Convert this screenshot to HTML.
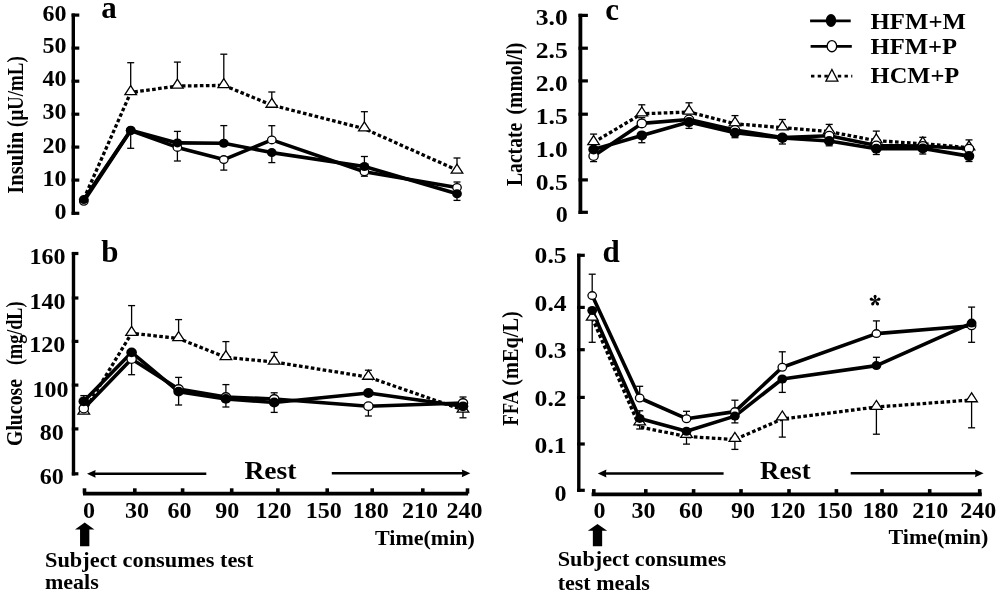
<!DOCTYPE html>
<html><head><meta charset="utf-8"><style>
html,body{margin:0;padding:0;background:#fff;}
svg{display:block;filter:grayscale(1);}
text{font-family:"Liberation Serif", serif;font-weight:bold;fill:#000;}
</style></head><body>
<svg width="1000" height="595" viewBox="0 0 1000 595">
<rect width="1000" height="595" fill="#fff"/>
<line x1="73.3" y1="13.5" x2="73.3" y2="214.9" stroke="#000" stroke-width="3.4" />
<line x1="71.6" y1="15.1" x2="79.3" y2="15.1" stroke="#000" stroke-width="3.2" />
<line x1="71.6" y1="48.1" x2="79.3" y2="48.1" stroke="#000" stroke-width="3.2" />
<line x1="71.6" y1="81.2" x2="79.3" y2="81.2" stroke="#000" stroke-width="3.2" />
<line x1="71.6" y1="114.2" x2="79.3" y2="114.2" stroke="#000" stroke-width="3.2" />
<line x1="71.6" y1="147.1" x2="79.3" y2="147.1" stroke="#000" stroke-width="3.2" />
<line x1="71.6" y1="180.1" x2="79.3" y2="180.1" stroke="#000" stroke-width="3.2" />
<line x1="71.6" y1="213.3" x2="79.3" y2="213.3" stroke="#000" stroke-width="3.2" />
<text x="66.6" y="20.6" font-size="24" text-anchor="end" >60</text>
<text x="66.6" y="53.2" font-size="24" text-anchor="end" >50</text>
<text x="66.6" y="85.8" font-size="24" text-anchor="end" >40</text>
<text x="66.6" y="119.3" font-size="24" text-anchor="end" >30</text>
<text x="66.6" y="152.8" font-size="24" text-anchor="end" >20</text>
<text x="66.6" y="185.9" font-size="24" text-anchor="end" >10</text>
<text x="66.6" y="219.1" font-size="24" text-anchor="end" >0</text>
<text x="101.3" y="17.9" font-size="31" text-anchor="start" >a</text>
<text transform="translate(22.6,193.7) rotate(-90)" font-size="22.5" textLength="61.8" lengthAdjust="spacingAndGlyphs">Insulin</text>
<text transform="translate(22.6,126.9) rotate(-90)" font-size="22.5" textLength="70.6" lengthAdjust="spacingAndGlyphs">(μU/mL)</text>
<line x1="73.5" y1="251.9" x2="73.5" y2="475.4" stroke="#000" stroke-width="3.4" />
<line x1="71.8" y1="253.5" x2="78.4" y2="253.5" stroke="#000" stroke-width="3.2" />
<line x1="71.8" y1="298" x2="78.4" y2="298" stroke="#000" stroke-width="3.2" />
<line x1="71.8" y1="341.4" x2="78.4" y2="341.4" stroke="#000" stroke-width="3.2" />
<line x1="71.8" y1="385.1" x2="78.4" y2="385.1" stroke="#000" stroke-width="3.2" />
<line x1="71.8" y1="428.9" x2="78.4" y2="428.9" stroke="#000" stroke-width="3.2" />
<line x1="71.8" y1="473.8" x2="78.4" y2="473.8" stroke="#000" stroke-width="3.2" />
<text x="47.6" y="263.8" font-size="24" text-anchor="middle" >160</text>
<text x="47.6" y="309" font-size="24" text-anchor="middle" >140</text>
<text x="47.3" y="351.5" font-size="24" text-anchor="middle" >120</text>
<text x="50.5" y="397.2" font-size="24" text-anchor="middle" >100</text>
<text x="51.7" y="439.6" font-size="24" text-anchor="middle" >80</text>
<text x="51.7" y="483.9" font-size="24" text-anchor="middle" >60</text>
<text x="101.3" y="261.5" font-size="31" text-anchor="start" >b</text>
<text transform="translate(22.2,446) rotate(-90)" font-size="22.5" textLength="67" lengthAdjust="spacingAndGlyphs">Glucose</text>
<text transform="translate(22.2,365) rotate(-90)" font-size="22.5" textLength="63.5" lengthAdjust="spacingAndGlyphs">(mg/dL)</text>
<line x1="580.4" y1="13.8" x2="580.4" y2="213.9" stroke="#000" stroke-width="3.8" />
<line x1="578.5" y1="15.4" x2="587.9" y2="15.4" stroke="#000" stroke-width="3.2" />
<line x1="578.5" y1="48.2" x2="587.9" y2="48.2" stroke="#000" stroke-width="3.2" />
<line x1="578.5" y1="80.9" x2="587.9" y2="80.9" stroke="#000" stroke-width="3.2" />
<line x1="578.5" y1="114.2" x2="587.9" y2="114.2" stroke="#000" stroke-width="3.2" />
<line x1="578.5" y1="179.9" x2="587.9" y2="179.9" stroke="#000" stroke-width="3.2" />
<line x1="578.5" y1="212.3" x2="587.9" y2="212.3" stroke="#000" stroke-width="3.2" />
<text x="567.8" y="25.2" font-size="24" text-anchor="end" textLength="32" lengthAdjust="spacingAndGlyphs">3.0</text>
<text x="567.8" y="58.3" font-size="24" text-anchor="end" textLength="32" lengthAdjust="spacingAndGlyphs">2.5</text>
<text x="567.8" y="91.4" font-size="24" text-anchor="end" textLength="32" lengthAdjust="spacingAndGlyphs">2.0</text>
<text x="567.8" y="124.3" font-size="24" text-anchor="end" textLength="32" lengthAdjust="spacingAndGlyphs">1.5</text>
<text x="567.8" y="156.6" font-size="24" text-anchor="end" textLength="32" lengthAdjust="spacingAndGlyphs">1.0</text>
<text x="567.8" y="189.5" font-size="24" text-anchor="end" textLength="32" lengthAdjust="spacingAndGlyphs">0.5</text>
<text x="567.8" y="222.3" font-size="24" text-anchor="end" >0</text>
<text x="605.2" y="19.6" font-size="31" text-anchor="start" >c</text>
<text transform="translate(521.7,186) rotate(-90)" font-size="22.5" textLength="63.2" lengthAdjust="spacingAndGlyphs">Lactate</text>
<text transform="translate(521.7,114.4) rotate(-90)" font-size="22.5" textLength="71.8" lengthAdjust="spacingAndGlyphs">(mmol/l)</text>
<line x1="578.8" y1="253.7" x2="578.8" y2="491.9" stroke="#000" stroke-width="3.4" />
<line x1="577.1" y1="255.3" x2="584.8" y2="255.3" stroke="#000" stroke-width="3.2" />
<line x1="577.1" y1="307.4" x2="584.8" y2="307.4" stroke="#000" stroke-width="3.2" />
<line x1="577.1" y1="349.7" x2="584.8" y2="349.7" stroke="#000" stroke-width="3.2" />
<line x1="577.1" y1="397.4" x2="584.8" y2="397.4" stroke="#000" stroke-width="3.2" />
<line x1="577.1" y1="444" x2="584.8" y2="444" stroke="#000" stroke-width="3.2" />
<line x1="577.1" y1="490.3" x2="584.8" y2="490.3" stroke="#000" stroke-width="3.2" />
<text x="566.6" y="263.3" font-size="24" text-anchor="end" textLength="32" lengthAdjust="spacingAndGlyphs">0.5</text>
<text x="566.6" y="311.3" font-size="24" text-anchor="end" textLength="32" lengthAdjust="spacingAndGlyphs">0.4</text>
<text x="566.6" y="358" font-size="24" text-anchor="end" textLength="32" lengthAdjust="spacingAndGlyphs">0.3</text>
<text x="566.6" y="406.4" font-size="24" text-anchor="end" textLength="32" lengthAdjust="spacingAndGlyphs">0.2</text>
<text x="566.6" y="453.1" font-size="24" text-anchor="end" textLength="32" lengthAdjust="spacingAndGlyphs">0.1</text>
<text x="566.6" y="501" font-size="24" text-anchor="end" >0</text>
<text x="602.5" y="262.3" font-size="31" text-anchor="start" >d</text>
<text transform="translate(518.1,425.8) rotate(-90)" font-size="22.5" textLength="35" lengthAdjust="spacingAndGlyphs">FFA</text>
<text transform="translate(518.1,385.8) rotate(-90)" font-size="22.5" textLength="74.5" lengthAdjust="spacingAndGlyphs">(mEq/L)</text>
<g transform="translate(875.1,300.5)" fill="#000"><path d="M-0.4,-0.3 L-1.35,-3.2 A1.6,1.6 0 1 1 1.35,-3.2 L0.4,-0.3 Z" transform="rotate(0)"/><path d="M-0.4,-0.3 L-1.35,-3.2 A1.6,1.6 0 1 1 1.35,-3.2 L0.4,-0.3 Z" transform="rotate(72)"/><path d="M-0.4,-0.3 L-1.35,-3.2 A1.6,1.6 0 1 1 1.35,-3.2 L0.4,-0.3 Z" transform="rotate(144)"/><path d="M-0.4,-0.3 L-1.35,-3.2 A1.6,1.6 0 1 1 1.35,-3.2 L0.4,-0.3 Z" transform="rotate(216)"/><path d="M-0.4,-0.3 L-1.35,-3.2 A1.6,1.6 0 1 1 1.35,-3.2 L0.4,-0.3 Z" transform="rotate(288)"/><circle r="0.8"/></g>
<line x1="130.7" y1="91" x2="130.7" y2="62.7" stroke="#000" stroke-width="1.3" />
<line x1="127.2" y1="62.7" x2="134.2" y2="62.7" stroke="#000" stroke-width="1.3" />
<line x1="177.4" y1="84.5" x2="177.4" y2="62.1" stroke="#000" stroke-width="1.3" />
<line x1="173.9" y1="62.1" x2="180.9" y2="62.1" stroke="#000" stroke-width="1.3" />
<line x1="223.8" y1="83.9" x2="223.8" y2="54.2" stroke="#000" stroke-width="1.3" />
<line x1="220.3" y1="54.2" x2="227.3" y2="54.2" stroke="#000" stroke-width="1.3" />
<line x1="271.8" y1="103.6" x2="271.8" y2="92" stroke="#000" stroke-width="1.3" />
<line x1="268.3" y1="92" x2="275.3" y2="92" stroke="#000" stroke-width="1.3" />
<line x1="364.4" y1="127.2" x2="364.4" y2="111.7" stroke="#000" stroke-width="1.3" />
<line x1="360.9" y1="111.7" x2="367.9" y2="111.7" stroke="#000" stroke-width="1.3" />
<line x1="457" y1="169.4" x2="457" y2="158" stroke="#000" stroke-width="1.3" />
<line x1="453.5" y1="158" x2="460.5" y2="158" stroke="#000" stroke-width="1.3" />
<line x1="130.7" y1="130.2" x2="130.7" y2="148.3" stroke="#000" stroke-width="1.3" />
<line x1="127.2" y1="148.3" x2="134.2" y2="148.3" stroke="#000" stroke-width="1.3" />
<line x1="177.4" y1="142.9" x2="177.4" y2="131.4" stroke="#000" stroke-width="1.3" />
<line x1="173.9" y1="131.4" x2="180.9" y2="131.4" stroke="#000" stroke-width="1.3" />
<line x1="177.4" y1="147.4" x2="177.4" y2="161" stroke="#000" stroke-width="1.3" />
<line x1="173.9" y1="161" x2="180.9" y2="161" stroke="#000" stroke-width="1.3" />
<line x1="223.8" y1="143.3" x2="223.8" y2="125.6" stroke="#000" stroke-width="1.3" />
<line x1="220.3" y1="125.6" x2="227.3" y2="125.6" stroke="#000" stroke-width="1.3" />
<line x1="223.8" y1="159.6" x2="223.8" y2="170.1" stroke="#000" stroke-width="1.3" />
<line x1="220.3" y1="170.1" x2="227.3" y2="170.1" stroke="#000" stroke-width="1.3" />
<line x1="271.8" y1="139.9" x2="271.8" y2="125.7" stroke="#000" stroke-width="1.3" />
<line x1="268.3" y1="125.7" x2="275.3" y2="125.7" stroke="#000" stroke-width="1.3" />
<line x1="271.8" y1="152.6" x2="271.8" y2="162.6" stroke="#000" stroke-width="1.3" />
<line x1="268.3" y1="162.6" x2="275.3" y2="162.6" stroke="#000" stroke-width="1.3" />
<line x1="364.4" y1="166.5" x2="364.4" y2="156.5" stroke="#000" stroke-width="1.3" />
<line x1="360.9" y1="156.5" x2="367.9" y2="156.5" stroke="#000" stroke-width="1.3" />
<line x1="364.4" y1="171.7" x2="364.4" y2="176.2" stroke="#000" stroke-width="1.3" />
<line x1="360.9" y1="176.2" x2="367.9" y2="176.2" stroke="#000" stroke-width="1.3" />
<line x1="457" y1="187.4" x2="457" y2="182" stroke="#000" stroke-width="1.3" />
<line x1="453.5" y1="182" x2="460.5" y2="182" stroke="#000" stroke-width="1.3" />
<line x1="457" y1="193.8" x2="457" y2="200.4" stroke="#000" stroke-width="1.3" />
<line x1="453.5" y1="200.4" x2="460.5" y2="200.4" stroke="#000" stroke-width="1.3" />
<polyline points="83.8,199 130.7,92.5 177.4,86 223.8,85.4 271.8,105.1 364.4,128.7 457,170.1" fill="none" stroke="#000" stroke-width="3.3" stroke-linejoin="round" stroke-dasharray="3.6 2.4"/>
<polyline points="83.8,201.3 130.7,130.5 177.4,147.4 223.8,159.6 271.8,139.9 364.4,171.7 457,187.4" fill="none" stroke="#000" stroke-width="3.6" stroke-linejoin="round"/>
<polyline points="83.8,199.6 130.7,130.2 177.4,142.9 223.8,143.3 271.8,152.6 364.4,166.5 457,193.8" fill="none" stroke="#000" stroke-width="3.6" stroke-linejoin="round"/>
<polygon points="130.7,85.72 124.9,94.67 136.5,94.67" fill="#fff" stroke="#000" stroke-width="1.3" stroke-linejoin="miter"/>
<polygon points="177.4,79.22 171.6,88.17 183.2,88.17" fill="#fff" stroke="#000" stroke-width="1.3" stroke-linejoin="miter"/>
<polygon points="223.8,78.62 218,87.57 229.6,87.57" fill="#fff" stroke="#000" stroke-width="1.3" stroke-linejoin="miter"/>
<polygon points="271.8,98.32 266,107.27 277.6,107.27" fill="#fff" stroke="#000" stroke-width="1.3" stroke-linejoin="miter"/>
<polygon points="364.4,121.92 358.6,130.87 370.2,130.87" fill="#fff" stroke="#000" stroke-width="1.3" stroke-linejoin="miter"/>
<polygon points="457,164.12 451.2,173.07 462.8,173.07" fill="#fff" stroke="#000" stroke-width="1.3" stroke-linejoin="miter"/>
<ellipse cx="83.8" cy="201.3" rx="4.25" ry="3.85" fill="#fff" stroke="#000" stroke-width="1.3"/>
<ellipse cx="130.7" cy="130.5" rx="4.25" ry="3.85" fill="#fff" stroke="#000" stroke-width="1.3"/>
<ellipse cx="177.4" cy="147.4" rx="4.25" ry="3.85" fill="#fff" stroke="#000" stroke-width="1.3"/>
<ellipse cx="223.8" cy="159.6" rx="4.25" ry="3.85" fill="#fff" stroke="#000" stroke-width="1.3"/>
<ellipse cx="271.8" cy="139.9" rx="4.25" ry="3.85" fill="#fff" stroke="#000" stroke-width="1.3"/>
<ellipse cx="364.4" cy="171.7" rx="4.25" ry="3.85" fill="#fff" stroke="#000" stroke-width="1.3"/>
<ellipse cx="457" cy="187.4" rx="4.25" ry="3.85" fill="#fff" stroke="#000" stroke-width="1.3"/>
<ellipse cx="83.8" cy="199.6" rx="4.9" ry="4.5" fill="#000"/>
<ellipse cx="130.7" cy="130.2" rx="4.9" ry="4.5" fill="#000"/>
<ellipse cx="177.4" cy="142.9" rx="4.9" ry="4.5" fill="#000"/>
<ellipse cx="223.8" cy="143.3" rx="4.9" ry="4.5" fill="#000"/>
<ellipse cx="271.8" cy="152.6" rx="4.9" ry="4.5" fill="#000"/>
<ellipse cx="364.4" cy="166.5" rx="4.9" ry="4.5" fill="#000"/>
<ellipse cx="457" cy="193.8" rx="4.9" ry="4.5" fill="#000"/>
<line x1="83.8" y1="401.3" x2="83.8" y2="395.6" stroke="#000" stroke-width="1.3" />
<line x1="80.3" y1="395.6" x2="87.3" y2="395.6" stroke="#000" stroke-width="1.3" />
<line x1="131.6" y1="331.7" x2="131.6" y2="305.6" stroke="#000" stroke-width="1.3" />
<line x1="128.1" y1="305.6" x2="135.1" y2="305.6" stroke="#000" stroke-width="1.3" />
<line x1="178.6" y1="337" x2="178.6" y2="319.6" stroke="#000" stroke-width="1.3" />
<line x1="175.1" y1="319.6" x2="182.1" y2="319.6" stroke="#000" stroke-width="1.3" />
<line x1="225.9" y1="355.9" x2="225.9" y2="341.6" stroke="#000" stroke-width="1.3" />
<line x1="222.4" y1="341.6" x2="229.4" y2="341.6" stroke="#000" stroke-width="1.3" />
<line x1="274.2" y1="360.5" x2="274.2" y2="352.4" stroke="#000" stroke-width="1.3" />
<line x1="270.7" y1="352.4" x2="277.7" y2="352.4" stroke="#000" stroke-width="1.3" />
<line x1="368.4" y1="375.6" x2="368.4" y2="370.2" stroke="#000" stroke-width="1.3" />
<line x1="364.9" y1="370.2" x2="371.9" y2="370.2" stroke="#000" stroke-width="1.3" />
<line x1="131.6" y1="359.1" x2="131.6" y2="374.7" stroke="#000" stroke-width="1.3" />
<line x1="128.1" y1="374.7" x2="135.1" y2="374.7" stroke="#000" stroke-width="1.3" />
<line x1="178.6" y1="389" x2="178.6" y2="377.4" stroke="#000" stroke-width="1.3" />
<line x1="175.1" y1="377.4" x2="182.1" y2="377.4" stroke="#000" stroke-width="1.3" />
<line x1="178.6" y1="391.6" x2="178.6" y2="405" stroke="#000" stroke-width="1.3" />
<line x1="175.1" y1="405" x2="182.1" y2="405" stroke="#000" stroke-width="1.3" />
<line x1="225.9" y1="397" x2="225.9" y2="384.6" stroke="#000" stroke-width="1.3" />
<line x1="222.4" y1="384.6" x2="229.4" y2="384.6" stroke="#000" stroke-width="1.3" />
<line x1="225.9" y1="398.9" x2="225.9" y2="407" stroke="#000" stroke-width="1.3" />
<line x1="222.4" y1="407" x2="229.4" y2="407" stroke="#000" stroke-width="1.3" />
<line x1="274.2" y1="399" x2="274.2" y2="392.8" stroke="#000" stroke-width="1.3" />
<line x1="270.7" y1="392.8" x2="277.7" y2="392.8" stroke="#000" stroke-width="1.3" />
<line x1="274.2" y1="402.5" x2="274.2" y2="412.4" stroke="#000" stroke-width="1.3" />
<line x1="270.7" y1="412.4" x2="277.7" y2="412.4" stroke="#000" stroke-width="1.3" />
<line x1="368.4" y1="406.2" x2="368.4" y2="416" stroke="#000" stroke-width="1.3" />
<line x1="364.9" y1="416" x2="371.9" y2="416" stroke="#000" stroke-width="1.3" />
<line x1="463" y1="403" x2="463" y2="397" stroke="#000" stroke-width="1.3" />
<line x1="459.5" y1="397" x2="466.5" y2="397" stroke="#000" stroke-width="1.3" />
<line x1="463" y1="406.3" x2="463" y2="417.8" stroke="#000" stroke-width="1.3" />
<line x1="459.5" y1="417.8" x2="466.5" y2="417.8" stroke="#000" stroke-width="1.3" />
<polyline points="83.8,412 131.6,333.2 178.6,338.5 225.9,357.4 274.2,362 368.4,377.1 463,409.9" fill="none" stroke="#000" stroke-width="3.3" stroke-linejoin="round" stroke-dasharray="3.6 2.4"/>
<polyline points="83.8,408.6 131.6,359.1 178.6,389 225.9,397 274.2,399 368.4,406.2 463,403" fill="none" stroke="#000" stroke-width="3.6" stroke-linejoin="round"/>
<polyline points="83.8,401.3 131.6,352.4 178.6,391.6 225.9,398.9 274.2,402.5 368.4,393 463,406.3" fill="none" stroke="#000" stroke-width="3.6" stroke-linejoin="round"/>
<polygon points="83.8,405.22 78,414.17 89.6,414.17" fill="#fff" stroke="#000" stroke-width="1.3" stroke-linejoin="miter"/>
<polygon points="131.6,326.42 125.8,335.37 137.4,335.37" fill="#fff" stroke="#000" stroke-width="1.3" stroke-linejoin="miter"/>
<polygon points="178.6,331.72 172.8,340.67 184.4,340.67" fill="#fff" stroke="#000" stroke-width="1.3" stroke-linejoin="miter"/>
<polygon points="225.9,350.62 220.1,359.57 231.7,359.57" fill="#fff" stroke="#000" stroke-width="1.3" stroke-linejoin="miter"/>
<polygon points="274.2,355.22 268.4,364.17 280,364.17" fill="#fff" stroke="#000" stroke-width="1.3" stroke-linejoin="miter"/>
<polygon points="368.4,370.32 362.6,379.27 374.2,379.27" fill="#fff" stroke="#000" stroke-width="1.3" stroke-linejoin="miter"/>
<polygon points="463,403.12 457.2,412.07 468.8,412.07" fill="#fff" stroke="#000" stroke-width="1.3" stroke-linejoin="miter"/>
<ellipse cx="83.8" cy="408.6" rx="4.6499999999999995" ry="4.25" fill="#fff" stroke="#000" stroke-width="1.3"/>
<ellipse cx="131.6" cy="359.1" rx="4.6499999999999995" ry="4.25" fill="#fff" stroke="#000" stroke-width="1.3"/>
<ellipse cx="178.6" cy="389" rx="4.6499999999999995" ry="4.25" fill="#fff" stroke="#000" stroke-width="1.3"/>
<ellipse cx="225.9" cy="397" rx="4.6499999999999995" ry="4.25" fill="#fff" stroke="#000" stroke-width="1.3"/>
<ellipse cx="274.2" cy="399" rx="4.6499999999999995" ry="4.25" fill="#fff" stroke="#000" stroke-width="1.3"/>
<ellipse cx="368.4" cy="406.2" rx="4.6499999999999995" ry="4.25" fill="#fff" stroke="#000" stroke-width="1.3"/>
<ellipse cx="463" cy="403" rx="4.6499999999999995" ry="4.25" fill="#fff" stroke="#000" stroke-width="1.3"/>
<ellipse cx="83.8" cy="401.3" rx="5.3" ry="4.9" fill="#000"/>
<ellipse cx="131.6" cy="352.4" rx="5.3" ry="4.9" fill="#000"/>
<ellipse cx="178.6" cy="391.6" rx="5.3" ry="4.9" fill="#000"/>
<ellipse cx="225.9" cy="398.9" rx="5.3" ry="4.9" fill="#000"/>
<ellipse cx="274.2" cy="402.5" rx="5.3" ry="4.9" fill="#000"/>
<ellipse cx="368.4" cy="393" rx="5.3" ry="4.9" fill="#000"/>
<ellipse cx="463" cy="406.3" rx="5.3" ry="4.9" fill="#000"/>
<line x1="593.6" y1="140.9" x2="593.6" y2="134.1" stroke="#000" stroke-width="1.3" />
<line x1="590.1" y1="134.1" x2="597.1" y2="134.1" stroke="#000" stroke-width="1.3" />
<line x1="641.8" y1="112.3" x2="641.8" y2="104.8" stroke="#000" stroke-width="1.3" />
<line x1="638.3" y1="104.8" x2="645.3" y2="104.8" stroke="#000" stroke-width="1.3" />
<line x1="689" y1="110.5" x2="689" y2="102.8" stroke="#000" stroke-width="1.3" />
<line x1="685.5" y1="102.8" x2="692.5" y2="102.8" stroke="#000" stroke-width="1.3" />
<line x1="735" y1="122.3" x2="735" y2="115.6" stroke="#000" stroke-width="1.3" />
<line x1="731.5" y1="115.6" x2="738.5" y2="115.6" stroke="#000" stroke-width="1.3" />
<line x1="782.4" y1="126.2" x2="782.4" y2="119.5" stroke="#000" stroke-width="1.3" />
<line x1="778.9" y1="119.5" x2="785.9" y2="119.5" stroke="#000" stroke-width="1.3" />
<line x1="829.2" y1="130.1" x2="829.2" y2="124.4" stroke="#000" stroke-width="1.3" />
<line x1="825.7" y1="124.4" x2="832.7" y2="124.4" stroke="#000" stroke-width="1.3" />
<line x1="876.3" y1="139.2" x2="876.3" y2="131.1" stroke="#000" stroke-width="1.3" />
<line x1="872.8" y1="131.1" x2="879.8" y2="131.1" stroke="#000" stroke-width="1.3" />
<line x1="922.8" y1="142.2" x2="922.8" y2="137.3" stroke="#000" stroke-width="1.3" />
<line x1="919.3" y1="137.3" x2="926.3" y2="137.3" stroke="#000" stroke-width="1.3" />
<line x1="969" y1="146.2" x2="969" y2="139.9" stroke="#000" stroke-width="1.3" />
<line x1="965.5" y1="139.9" x2="972.5" y2="139.9" stroke="#000" stroke-width="1.3" />
<line x1="593.6" y1="156" x2="593.6" y2="161.6" stroke="#000" stroke-width="1.3" />
<line x1="590.1" y1="161.6" x2="597.1" y2="161.6" stroke="#000" stroke-width="1.3" />
<line x1="641.8" y1="135.4" x2="641.8" y2="142.7" stroke="#000" stroke-width="1.3" />
<line x1="638.3" y1="142.7" x2="645.3" y2="142.7" stroke="#000" stroke-width="1.3" />
<line x1="689" y1="122.1" x2="689" y2="128.4" stroke="#000" stroke-width="1.3" />
<line x1="685.5" y1="128.4" x2="692.5" y2="128.4" stroke="#000" stroke-width="1.3" />
<line x1="735" y1="132.8" x2="735" y2="137.7" stroke="#000" stroke-width="1.3" />
<line x1="731.5" y1="137.7" x2="738.5" y2="137.7" stroke="#000" stroke-width="1.3" />
<line x1="641.8" y1="123.4" x2="641.8" y2="117.7" stroke="#000" stroke-width="1.3" />
<line x1="638.3" y1="117.7" x2="645.3" y2="117.7" stroke="#000" stroke-width="1.3" />
<line x1="782.4" y1="138" x2="782.4" y2="144" stroke="#000" stroke-width="1.3" />
<line x1="778.9" y1="144" x2="785.9" y2="144" stroke="#000" stroke-width="1.3" />
<line x1="829.2" y1="141" x2="829.2" y2="145.8" stroke="#000" stroke-width="1.3" />
<line x1="825.7" y1="145.8" x2="832.7" y2="145.8" stroke="#000" stroke-width="1.3" />
<line x1="876.3" y1="148.7" x2="876.3" y2="154.5" stroke="#000" stroke-width="1.3" />
<line x1="872.8" y1="154.5" x2="879.8" y2="154.5" stroke="#000" stroke-width="1.3" />
<line x1="922.8" y1="148.4" x2="922.8" y2="154" stroke="#000" stroke-width="1.3" />
<line x1="919.3" y1="154" x2="926.3" y2="154" stroke="#000" stroke-width="1.3" />
<line x1="969" y1="156.1" x2="969" y2="161.5" stroke="#000" stroke-width="1.3" />
<line x1="965.5" y1="161.5" x2="972.5" y2="161.5" stroke="#000" stroke-width="1.3" />
<polyline points="593.6,142.4 641.8,113.8 689,112 735,123.8 782.4,127.7 829.2,131.6 876.3,140.7 922.8,143.7 969,147.7" fill="none" stroke="#000" stroke-width="3.3" stroke-linejoin="round" stroke-dasharray="3.6 2.4"/>
<polyline points="593.6,156 641.8,123.4 689,119.5 735,130 782.4,137.5 829.2,135.8 876.3,145.5 922.8,146 969,148.7" fill="none" stroke="#000" stroke-width="3.6" stroke-linejoin="round"/>
<polyline points="593.6,149.5 641.8,135.4 689,122.1 735,132.8 782.4,138 829.2,141 876.3,148.7 922.8,148.4 969,156.1" fill="none" stroke="#000" stroke-width="3.6" stroke-linejoin="round"/>
<polygon points="593.6,135.62 587.8,144.57 599.4,144.57" fill="#fff" stroke="#000" stroke-width="1.3" stroke-linejoin="miter"/>
<polygon points="641.8,107.02 636,115.97 647.6,115.97" fill="#fff" stroke="#000" stroke-width="1.3" stroke-linejoin="miter"/>
<polygon points="689,105.22 683.2,114.17 694.8,114.17" fill="#fff" stroke="#000" stroke-width="1.3" stroke-linejoin="miter"/>
<polygon points="735,117.02 729.2,125.97 740.8,125.97" fill="#fff" stroke="#000" stroke-width="1.3" stroke-linejoin="miter"/>
<polygon points="782.4,120.92 776.6,129.87 788.2,129.87" fill="#fff" stroke="#000" stroke-width="1.3" stroke-linejoin="miter"/>
<polygon points="829.2,124.82 823.4,133.77 835,133.77" fill="#fff" stroke="#000" stroke-width="1.3" stroke-linejoin="miter"/>
<polygon points="876.3,133.92 870.5,142.87 882.1,142.87" fill="#fff" stroke="#000" stroke-width="1.3" stroke-linejoin="miter"/>
<polygon points="922.8,136.92 917,145.87 928.6,145.87" fill="#fff" stroke="#000" stroke-width="1.3" stroke-linejoin="miter"/>
<polygon points="969,140.92 963.2,149.87 974.8,149.87" fill="#fff" stroke="#000" stroke-width="1.3" stroke-linejoin="miter"/>
<ellipse cx="593.6" cy="156" rx="4.6499999999999995" ry="4.35" fill="#fff" stroke="#000" stroke-width="1.3"/>
<ellipse cx="641.8" cy="123.4" rx="4.6499999999999995" ry="4.35" fill="#fff" stroke="#000" stroke-width="1.3"/>
<ellipse cx="689" cy="119.5" rx="4.6499999999999995" ry="4.35" fill="#fff" stroke="#000" stroke-width="1.3"/>
<ellipse cx="735" cy="130" rx="4.6499999999999995" ry="4.35" fill="#fff" stroke="#000" stroke-width="1.3"/>
<ellipse cx="782.4" cy="137.5" rx="4.6499999999999995" ry="4.35" fill="#fff" stroke="#000" stroke-width="1.3"/>
<ellipse cx="829.2" cy="135.8" rx="4.6499999999999995" ry="4.35" fill="#fff" stroke="#000" stroke-width="1.3"/>
<ellipse cx="876.3" cy="145.5" rx="4.6499999999999995" ry="4.35" fill="#fff" stroke="#000" stroke-width="1.3"/>
<ellipse cx="922.8" cy="146" rx="4.6499999999999995" ry="4.35" fill="#fff" stroke="#000" stroke-width="1.3"/>
<ellipse cx="969" cy="148.7" rx="4.6499999999999995" ry="4.35" fill="#fff" stroke="#000" stroke-width="1.3"/>
<ellipse cx="593.6" cy="149.5" rx="5.3" ry="5.0" fill="#000"/>
<ellipse cx="641.8" cy="135.4" rx="5.3" ry="5.0" fill="#000"/>
<ellipse cx="689" cy="122.1" rx="5.3" ry="5.0" fill="#000"/>
<ellipse cx="735" cy="132.8" rx="5.3" ry="5.0" fill="#000"/>
<ellipse cx="782.4" cy="138" rx="5.3" ry="5.0" fill="#000"/>
<ellipse cx="829.2" cy="141" rx="5.3" ry="5.0" fill="#000"/>
<ellipse cx="876.3" cy="148.7" rx="5.3" ry="5.0" fill="#000"/>
<ellipse cx="922.8" cy="148.4" rx="5.3" ry="5.0" fill="#000"/>
<ellipse cx="969" cy="156.1" rx="5.3" ry="5.0" fill="#000"/>
<line x1="592.2" y1="295.6" x2="592.2" y2="274.2" stroke="#000" stroke-width="1.3" />
<line x1="588.7" y1="274.2" x2="595.7" y2="274.2" stroke="#000" stroke-width="1.3" />
<line x1="592.2" y1="316.5" x2="592.2" y2="342.3" stroke="#000" stroke-width="1.3" />
<line x1="588.7" y1="342.3" x2="595.7" y2="342.3" stroke="#000" stroke-width="1.3" />
<line x1="639.7" y1="398" x2="639.7" y2="386.3" stroke="#000" stroke-width="1.3" />
<line x1="636.2" y1="386.3" x2="643.2" y2="386.3" stroke="#000" stroke-width="1.3" />
<line x1="639.7" y1="418.4" x2="639.7" y2="410.8" stroke="#000" stroke-width="1.3" />
<line x1="636.2" y1="410.8" x2="643.2" y2="410.8" stroke="#000" stroke-width="1.3" />
<line x1="639.7" y1="421.3" x2="639.7" y2="429" stroke="#000" stroke-width="1.3" />
<line x1="636.2" y1="429" x2="643.2" y2="429" stroke="#000" stroke-width="1.3" />
<line x1="686.5" y1="418.7" x2="686.5" y2="411.3" stroke="#000" stroke-width="1.3" />
<line x1="683" y1="411.3" x2="690" y2="411.3" stroke="#000" stroke-width="1.3" />
<line x1="686.5" y1="433.8" x2="686.5" y2="444.1" stroke="#000" stroke-width="1.3" />
<line x1="683" y1="444.1" x2="690" y2="444.1" stroke="#000" stroke-width="1.3" />
<line x1="734.9" y1="411.6" x2="734.9" y2="400.2" stroke="#000" stroke-width="1.3" />
<line x1="731.4" y1="400.2" x2="738.4" y2="400.2" stroke="#000" stroke-width="1.3" />
<line x1="734.9" y1="416.1" x2="734.9" y2="422.9" stroke="#000" stroke-width="1.3" />
<line x1="731.4" y1="422.9" x2="738.4" y2="422.9" stroke="#000" stroke-width="1.3" />
<line x1="734.9" y1="437.7" x2="734.9" y2="449.4" stroke="#000" stroke-width="1.3" />
<line x1="731.4" y1="449.4" x2="738.4" y2="449.4" stroke="#000" stroke-width="1.3" />
<line x1="782.3" y1="367.2" x2="782.3" y2="351.8" stroke="#000" stroke-width="1.3" />
<line x1="778.8" y1="351.8" x2="785.8" y2="351.8" stroke="#000" stroke-width="1.3" />
<line x1="782.3" y1="379" x2="782.3" y2="392.4" stroke="#000" stroke-width="1.3" />
<line x1="778.8" y1="392.4" x2="785.8" y2="392.4" stroke="#000" stroke-width="1.3" />
<line x1="782.3" y1="416.3" x2="782.3" y2="437.1" stroke="#000" stroke-width="1.3" />
<line x1="778.8" y1="437.1" x2="785.8" y2="437.1" stroke="#000" stroke-width="1.3" />
<line x1="876.4" y1="333.6" x2="876.4" y2="320.9" stroke="#000" stroke-width="1.3" />
<line x1="872.9" y1="320.9" x2="879.9" y2="320.9" stroke="#000" stroke-width="1.3" />
<line x1="876.4" y1="365.6" x2="876.4" y2="357.3" stroke="#000" stroke-width="1.3" />
<line x1="872.9" y1="357.3" x2="879.9" y2="357.3" stroke="#000" stroke-width="1.3" />
<line x1="876.4" y1="405.8" x2="876.4" y2="434.2" stroke="#000" stroke-width="1.3" />
<line x1="872.9" y1="434.2" x2="879.9" y2="434.2" stroke="#000" stroke-width="1.3" />
<line x1="971.6" y1="323.1" x2="971.6" y2="307.1" stroke="#000" stroke-width="1.3" />
<line x1="968.1" y1="307.1" x2="975.1" y2="307.1" stroke="#000" stroke-width="1.3" />
<line x1="971.6" y1="325.7" x2="971.6" y2="342.3" stroke="#000" stroke-width="1.3" />
<line x1="968.1" y1="342.3" x2="975.1" y2="342.3" stroke="#000" stroke-width="1.3" />
<line x1="971.6" y1="398.1" x2="971.6" y2="427.8" stroke="#000" stroke-width="1.3" />
<line x1="968.1" y1="427.8" x2="975.1" y2="427.8" stroke="#000" stroke-width="1.3" />
<polyline points="592.2,318 639.7,427 686.5,436.5 734.9,439.5 782.3,419 876.4,407 971.6,400" fill="none" stroke="#000" stroke-width="3.3" stroke-linejoin="round" stroke-dasharray="3.6 2.4"/>
<polyline points="592.2,295.6 639.7,398 686.5,418.7 734.9,411.6 782.3,367.2 876.4,333.6 971.6,325.7" fill="none" stroke="#000" stroke-width="3.6" stroke-linejoin="round"/>
<polyline points="592.2,310.5 639.7,418.4 686.5,431.2 734.9,416.1 782.3,379 876.4,365.6 971.6,323.1" fill="none" stroke="#000" stroke-width="3.6" stroke-linejoin="round"/>
<polygon points="592.2,311.22 586.4,320.17 598,320.17" fill="#fff" stroke="#000" stroke-width="1.3" stroke-linejoin="miter"/>
<polygon points="639.7,416.02 633.9,424.97 645.5,424.97" fill="#fff" stroke="#000" stroke-width="1.3" stroke-linejoin="miter"/>
<polygon points="686.5,428.52 680.7,437.47 692.3,437.47" fill="#fff" stroke="#000" stroke-width="1.3" stroke-linejoin="miter"/>
<polygon points="734.9,432.42 729.1,441.37 740.7,441.37" fill="#fff" stroke="#000" stroke-width="1.3" stroke-linejoin="miter"/>
<polygon points="782.3,411.02 776.5,419.97 788.1,419.97" fill="#fff" stroke="#000" stroke-width="1.3" stroke-linejoin="miter"/>
<polygon points="876.4,400.52 870.6,409.47 882.2,409.47" fill="#fff" stroke="#000" stroke-width="1.3" stroke-linejoin="miter"/>
<polygon points="971.6,392.82 965.8,401.77 977.4,401.77" fill="#fff" stroke="#000" stroke-width="1.3" stroke-linejoin="miter"/>
<ellipse cx="592.2" cy="295.6" rx="4.25" ry="3.85" fill="#fff" stroke="#000" stroke-width="1.3"/>
<ellipse cx="639.7" cy="398" rx="4.25" ry="3.85" fill="#fff" stroke="#000" stroke-width="1.3"/>
<ellipse cx="686.5" cy="418.7" rx="4.25" ry="3.85" fill="#fff" stroke="#000" stroke-width="1.3"/>
<ellipse cx="734.9" cy="411.6" rx="4.25" ry="3.85" fill="#fff" stroke="#000" stroke-width="1.3"/>
<ellipse cx="782.3" cy="367.2" rx="4.25" ry="3.85" fill="#fff" stroke="#000" stroke-width="1.3"/>
<ellipse cx="876.4" cy="333.6" rx="4.25" ry="3.85" fill="#fff" stroke="#000" stroke-width="1.3"/>
<ellipse cx="971.6" cy="325.7" rx="4.25" ry="3.85" fill="#fff" stroke="#000" stroke-width="1.3"/>
<ellipse cx="592.2" cy="310.5" rx="4.9" ry="4.5" fill="#000"/>
<ellipse cx="639.7" cy="418.4" rx="4.9" ry="4.5" fill="#000"/>
<ellipse cx="686.5" cy="431.2" rx="4.9" ry="4.5" fill="#000"/>
<ellipse cx="734.9" cy="416.1" rx="4.9" ry="4.5" fill="#000"/>
<ellipse cx="782.3" cy="379" rx="4.9" ry="4.5" fill="#000"/>
<ellipse cx="876.4" cy="365.6" rx="4.9" ry="4.5" fill="#000"/>
<ellipse cx="971.6" cy="323.1" rx="4.9" ry="4.5" fill="#000"/>
<line x1="83" y1="493.6" x2="468.1" y2="493.6" stroke="#000" stroke-width="3.9" />
<line x1="84.5" y1="488.3" x2="84.5" y2="493.6" stroke="#000" stroke-width="3.6" />
<line x1="134.8" y1="488.3" x2="134.8" y2="493.6" stroke="#000" stroke-width="3.6" />
<line x1="182.6" y1="488.3" x2="182.6" y2="493.6" stroke="#000" stroke-width="3.6" />
<line x1="231.7" y1="488.3" x2="231.7" y2="493.6" stroke="#000" stroke-width="3.6" />
<line x1="277.9" y1="488.3" x2="277.9" y2="493.6" stroke="#000" stroke-width="3.6" />
<line x1="327.2" y1="488.3" x2="327.2" y2="493.6" stroke="#000" stroke-width="3.6" />
<line x1="372.2" y1="488.3" x2="372.2" y2="493.6" stroke="#000" stroke-width="3.6" />
<line x1="422.8" y1="488.3" x2="422.8" y2="493.6" stroke="#000" stroke-width="3.6" />
<line x1="467.5" y1="488.3" x2="467.5" y2="493.6" stroke="#000" stroke-width="3.6" />
<text x="89.1" y="518.3" font-size="24" text-anchor="middle" >0</text>
<text x="137" y="518.3" font-size="24" text-anchor="middle" >30</text>
<text x="179.5" y="518.3" font-size="24" text-anchor="middle" >60</text>
<text x="227.2" y="518.3" font-size="24" text-anchor="middle" >90</text>
<text x="273.5" y="518.3" font-size="24" text-anchor="middle" >120</text>
<text x="323.8" y="518.3" font-size="24" text-anchor="middle" >150</text>
<text x="370.7" y="518.3" font-size="24" text-anchor="middle" >180</text>
<text x="420.1" y="518.3" font-size="24" text-anchor="middle" >210</text>
<text x="464.5" y="518.3" font-size="24" text-anchor="middle" >240</text>
<line x1="591.6" y1="494.4" x2="981.8" y2="494.4" stroke="#000" stroke-width="3.9" />
<line x1="593.8" y1="489.1" x2="593.8" y2="494.4" stroke="#000" stroke-width="3.6" />
<line x1="645.8" y1="489.1" x2="645.8" y2="494.4" stroke="#000" stroke-width="3.6" />
<line x1="693.6" y1="489.1" x2="693.6" y2="494.4" stroke="#000" stroke-width="3.6" />
<line x1="741" y1="489.1" x2="741" y2="494.4" stroke="#000" stroke-width="3.6" />
<line x1="789" y1="489.1" x2="789" y2="494.4" stroke="#000" stroke-width="3.6" />
<line x1="836.4" y1="489.1" x2="836.4" y2="494.4" stroke="#000" stroke-width="3.6" />
<line x1="882" y1="489.1" x2="882" y2="494.4" stroke="#000" stroke-width="3.6" />
<line x1="929.7" y1="489.1" x2="929.7" y2="494.4" stroke="#000" stroke-width="3.6" />
<line x1="979.7" y1="489.1" x2="979.7" y2="494.4" stroke="#000" stroke-width="3.6" />
<text x="599.5" y="518.3" font-size="24" text-anchor="middle" >0</text>
<text x="643.5" y="518.3" font-size="24" text-anchor="middle" >30</text>
<text x="691" y="518.3" font-size="24" text-anchor="middle" >60</text>
<text x="743" y="518.3" font-size="24" text-anchor="middle" >90</text>
<text x="787.5" y="518.3" font-size="24" text-anchor="middle" >120</text>
<text x="834.8" y="518.3" font-size="24" text-anchor="middle" >150</text>
<text x="880.5" y="518.3" font-size="24" text-anchor="middle" >180</text>
<text x="930.2" y="518.3" font-size="24" text-anchor="middle" >210</text>
<text x="978.3" y="518.3" font-size="24" text-anchor="middle" >240</text>
<line x1="93" y1="473.8" x2="206.3" y2="473.8" stroke="#000" stroke-width="2.5" />
<polygon points="87,473.8 95.6,469.9 95,473.8 95.6,477.7" fill="#000"/>
<line x1="331.8" y1="473.3" x2="464.4" y2="473.3" stroke="#000" stroke-width="2.5" />
<polygon points="470.4,473.3 461.8,469.4 462.4,473.3 461.8,477.2" fill="#000"/>
<text x="244.4" y="479" font-size="25" text-anchor="start" textLength="52" lengthAdjust="spacingAndGlyphs">Rest</text>
<line x1="603.8" y1="473.5" x2="723.6" y2="473.5" stroke="#000" stroke-width="2.5" />
<polygon points="597.8,473.5 606.4,469.6 605.8,473.5 606.4,477.4" fill="#000"/>
<line x1="850.7" y1="473.3" x2="977.6" y2="473.3" stroke="#000" stroke-width="2.5" />
<polygon points="983.6,473.3 975,469.4 975.6,473.3 975,477.2" fill="#000"/>
<text x="760.1" y="479" font-size="25" text-anchor="start" textLength="50.6" lengthAdjust="spacingAndGlyphs">Rest</text>
<text x="375" y="544.6" font-size="22" text-anchor="start" >Time(min)</text>
<text x="888.5" y="544.2" font-size="22" text-anchor="start" >Time(min)</text>
<polygon points="84.7,522.6 94.4,529.4 89.35,529.4 89.35,546.2 80.05,546.2 80.05,529.4 75,529.4" fill="#000"/>
<polygon points="597.5,523.9 607.2,530.7 602.15,530.7 602.15,546.3 592.85,546.3 592.85,530.7 587.8,530.7" fill="#000"/>
<text x="45" y="566.5" font-size="22" text-anchor="start" textLength="208.5" lengthAdjust="spacingAndGlyphs">Subject consumes test</text>
<text x="45" y="589" font-size="22" text-anchor="start" >meals</text>
<text x="557.7" y="566.3" font-size="22" text-anchor="start" textLength="168.5" lengthAdjust="spacingAndGlyphs">Subject consumes</text>
<text x="557.7" y="589.7" font-size="22" text-anchor="start" >test meals</text>
<line x1="810.1" y1="20.8" x2="850.7" y2="20.8" stroke="#000" stroke-width="2.8" />
<ellipse cx="831" cy="20.5" rx="5.2" ry="6.4" fill="#000"/>
<line x1="810.6" y1="46.3" x2="851.8" y2="46.3" stroke="#000" stroke-width="2.8" />
<ellipse cx="831.9" cy="46.2" rx="4.75" ry="5.55" fill="#fff" stroke="#000" stroke-width="1.3"/>
<line x1="811" y1="76.2" x2="852.3" y2="76.2" stroke="#000" stroke-width="2.8" stroke-dasharray="3.4 3.3"/>
<polygon points="831.9,69.5 825.9,81.1 837.9,81.1" fill="#fff" stroke="#000" stroke-width="1.3"/>
<text x="870.6" y="28.6" font-size="22.5" text-anchor="start" textLength="95.3" lengthAdjust="spacingAndGlyphs">HFM+M</text>
<text x="870.6" y="54.3" font-size="22.5" text-anchor="start" textLength="86.5" lengthAdjust="spacingAndGlyphs">HFM+P</text>
<text x="870.6" y="83.2" font-size="22.5" text-anchor="start" textLength="88.7" lengthAdjust="spacingAndGlyphs">HCM+P</text>
</svg>
</body></html>
